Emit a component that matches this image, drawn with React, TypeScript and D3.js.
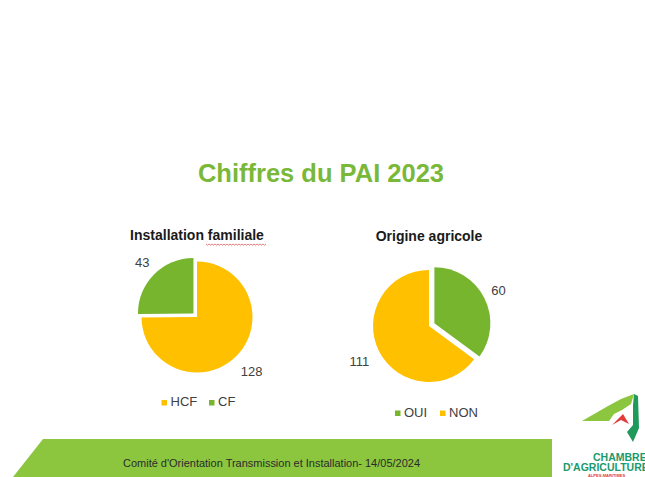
import React from "react";
import { pie, arc, PieArcDatum } from "d3";

const width = 645;
const height = 477;

const GREEN = "#77b52f";
const YELLOW = "#ffc000";
const LABEL = "#404040";

// data
const famCategories = ["HCF", "CF"];
const famValues = [128, 43];
const agriCategories = ["OUI", "NON"];
const agriValues = [60, 111];

type Slice = { name: string; value: number };

const makePie = pie<Slice>().sort(null).value((d) => d.value);

type PieProps = {
 title: string;
 cats: string[];
 vals: number[];
 colors: string[];
 explode: string;
 explodeBy: number;
 cx: number;
 cy: number;
 r: number;
 labelR: number;
 titleY: number;
 legendY: number;
 legendX: number;
 legendGap: number;
 squiggle?: [number, number];
};

const PieBlock = (p: PieProps) => {
 const data: Slice[] = p.cats.map((c, i) => ({ name: c, value: p.vals[i] }));
 const arcs = makePie(data);
 const slice = arc<PieArcDatum<Slice>>().innerRadius(0).outerRadius(p.r);
 const lbl = arc<PieArcDatum<Slice>>().innerRadius(p.labelR).outerRadius(p.labelR);
 const shift = arc<PieArcDatum<Slice>>().innerRadius(p.explodeBy).outerRadius(p.explodeBy);

 // red spell-check wave under part of the title
 let squig = "";
 if (p.squiggle) {
  const [x0, x1] = p.squiggle;
  const y = p.titleY + 4;
  squig = `M${x0},${y}`;
  for (let x = x0, k = 0; x < x1; x += 1.5, k++) {
   squig += ` L${x + 1.5},${y + (k % 2 ? 0 : 1.2)}`;
  }
 }

 return (
  <g>
   <text x={p.cx} y={p.titleY} textAnchor="middle" fontSize={14} fontWeight="bold" fill="#1a1a1a">
    {p.title}
   </text>
   {squig && <path d={squig} fill="none" stroke="#e05a5a" strokeWidth={0.8} />}
   <g transform={`translate(${p.cx},${p.cy})`}>
    {arcs.map((a) => {
     const [dx, dy] = a.data.name === p.explode ? shift.centroid(a) : [0, 0];
     return (
      <path
       key={a.data.name}
       d={slice(a) || ""}
       fill={p.colors[a.index]}
       transform={`translate(${dx},${dy})`}
      />
     );
    })}
    {arcs.map((a) => {
     const [x, y] = lbl.centroid(a);
     return (
      <text key={"l" + a.data.name} x={x} y={y} dy="0.35em" textAnchor="middle" fontSize={13} fill={LABEL}>
       {a.data.value}
      </text>
     );
    })}
   </g>
   {p.cats.map((name, i) => (
    <g key={"lg" + name} transform={`translate(${p.legendX + i * p.legendGap},${p.legendY})`}>
     <rect x={0} y={-6} width={5.5} height={5.5} fill={p.colors[i]} />
     <text x={9} y={0} fontSize={13} fill={LABEL}>
      {name}
     </text>
    </g>
   ))}
  </g>
 );
};

const App = () => {
 return (
  <svg
   width={width}
   height={height}
   style={{ position: "absolute", left: 0, top: 0, background: "#fff" }}
   fontFamily="'Liberation Sans', Arial, sans-serif"
  >
   <rect width={width} height={height} fill="#fff" />
   <text x={321} y={182} textAnchor="middle" fontSize={25.5} fontWeight="bold" fill="#7ab83a">
    Chiffres du PAI 2023
   </text>

   <PieBlock
    title="Installation familiale"
    cats={famCategories}
    vals={famValues}
    colors={[YELLOW, GREEN]}
    explode="CF"
    explodeBy={5}
    cx={197}
    cy={317}
    r={55.5}
    labelR={77}
    titleY={240}
    legendY={406}
    legendX={161.5}
    legendGap={47.5}
    squiggle={[206, 265]}
   />
   <PieBlock
    title="Origine agricole"
    cats={agriCategories}
    vals={agriValues}
    colors={[GREEN, YELLOW]}
    explode="OUI"
    explodeBy={6}
    cx={429}
    cy={326}
    r={56}
    labelR={78}
    titleY={241}
    legendY={416.5}
    legendX={395}
    legendGap={45}
   />

   {/* footer band */}
   <path d="M43,439 L552,439 L552,477 L13,477 Z" fill="#8cc63f" />
   <text x={123} y={467} fontSize={11} fill="#2b2b2b" textLength={297} lengthAdjust="spacingAndGlyphs">
    Comité d'Orientation Transmission et Installation- 14/05/2024
   </text>

   {/* logo */}
   <path d="M582,421 L608,406 L621,399 L634,394 L631,404 L622,410 L614,414 L609,421 Z" fill="#8cc63f" />
   <path d="M634,394 L638,396 L639,428 L633,442 L627,432 L633,425 L633,405 Z" fill="#1f9a5a" />
   <path d="M612,425 L623,414 L629,424 L621,420 Z" fill="#e23b3b" />
   <text x={593} y={461} fontSize={10.5} fontWeight="bold" fill="#1b9a6b">
    CHAMBRE
   </text>
   <text x={563} y={471} fontSize={10.5} fontWeight="bold" fill="#1b9a6b">
    D'AGRICULTURE
   </text>
   <text x={588} y={477} fontSize={4} fontWeight="bold" fill="#e23b3b">
    ALPES-MARITIMES
   </text>
  </svg>
 );
};

export default App;
